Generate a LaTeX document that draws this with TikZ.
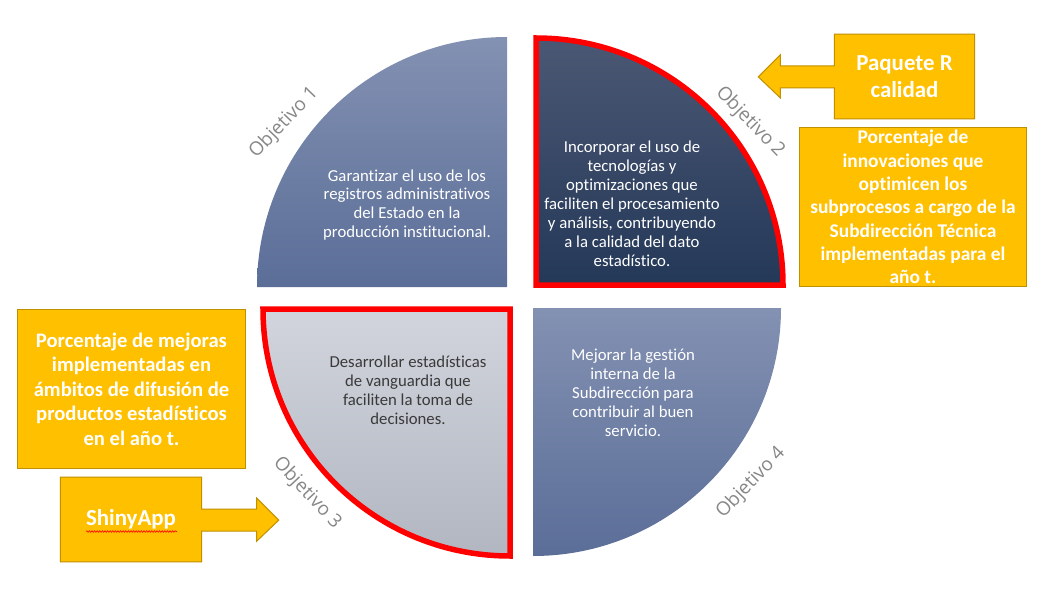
\documentclass[tikz,border=0pt]{standalone}
\usepackage{fontspec}
\setmainfont{Carlito}[Ligatures=NoCommon]
\newfontfamily\labelfont{Open Sans}
\usetikzlibrary{decorations.pathmorphing}
\pgfdeclarelayer{background}
\pgfsetlayers{background,main}
\definecolor{gold}{HTML}{FFC000}
\definecolor{goldline}{HTML}{BF9000}
\definecolor{slatetop}{HTML}{8391B2}
\definecolor{slatebot}{HTML}{5B6E98}
\definecolor{navytop}{HTML}{4B5874}
\definecolor{navybot}{HTML}{243858}
\definecolor{greytop}{HTML}{D2D5DD}
\definecolor{greybot}{HTML}{B1B6C1}
\definecolor{labelgrey}{HTML}{878787}
\definecolor{darktext}{HTML}{3A3A3A}
\begin{document}
\begin{tikzpicture}[x=1bp,y=-1bp,
  quadtext/.style={align=center, inner sep=0, font=\fontsize{16.8}{19}\selectfont},
  objlabel/.style={inner sep=0, text=labelgrey, font=\labelfont\fontsize{19}{22}\selectfont},
  yshape/.style={fill=gold, draw=goldline, line width=1bp, line join=miter},
  ytext/.style={align=center, inner sep=0, outer sep=0, text=white},
  hilite/.style={draw=red, line width=5.5bp, line join=miter}]
\useasboundingbox (0,0) rectangle (1049,600);

% four quarter discs
\path[top color=slatetop, bottom color=slatebot]
  (507,287) -- ++(-250,0) arc[start angle=180, end angle=270, radius=250] -- cycle;
\path[top color=navytop, bottom color=navybot, hilite]
  (536,285) -- ++(0,-247) arc[start angle=270, end angle=360, radius=247] -- cycle;
\path[top color=greytop, bottom color=greybot, hilite]
  (510,309) -- ++(0,247) arc[start angle=90, end angle=180, radius=247] -- cycle;
\path[top color=slatetop, bottom color=slatebot]
  (533,308) -- ++(248,0) arc[start angle=0, end angle=90, radius=248] -- cycle;

% objective texts
\node[quadtext, text=white] (q1t) at (407,205)
  {Garantizar el uso de los\\registros administrativos\\del Estado en la\\producción institucional.};
\node[quadtext, text=white] (q2t) at (632,204)
  {Incorporar el uso de\\tecnologías y\\optimizaciones que\\faciliten el procesamiento\\y análisis, contribuyendo\\a la calidad del dato\\estadístico.};
\node[quadtext, text=darktext] (q3t) at (408,390)
  {Desarrollar estadísticas\\de vanguardia que\\faciliten la toma de\\decisiones.};
\node[quadtext, text=white] (q4t) at (633,393)
  {Mejorar la gestión\\interna de la\\Subdirección para\\contribuir al buen\\servicio.};

% labels along the rim
\node[objlabel, rotate=46]  (o1) at (284,123) {Objetivo 1};
\node[objlabel, rotate=-46] (o2) at (750,122) {Objetivo 2};
\node[objlabel, rotate=-47] (o3) at (307,493) {Objetivo 3};
\node[objlabel, rotate=46]  (o4) at (751,483) {Objetivo 4};

% indicator boxes
\node[ytext, minimum width=141, minimum height=85, font=\bfseries\fontsize{23}{27}\selectfont]
  (paq) at (904.5,76.5) {Paquete R\\calidad};
\node[ytext, fill=gold, draw=goldline, line width=1bp, minimum width=228, minimum height=160,
  font=\bfseries\fontsize{19.5}{23.4}\selectfont]
  (inn) at (913,207) {Porcentaje de\\innovaciones que\\optimicen los\\subprocesos a cargo de la\\Subdirección Técnica\\implementadas para el\\año t.};
\node[ytext, fill=gold, draw=goldline, line width=1bp, minimum width=229, minimum height=160,
  font=\bfseries\fontsize{20.7}{24.6}\selectfont]
  (mej) at (131.5,389) {Porcentaje de mejoras\\implementadas en\\ámbitos de difusión de\\productos estadísticos\\en el año t.};
\node[ytext, minimum width=142, minimum height=85, font=\bfseries\fontsize{23}{27}\selectfont]
  (shiny) at (131,519.5) {ShinyApp};
\draw[red, line width=0.6bp, decorate, decoration={snake, amplitude=0.8bp, segment length=2.6bp}]
  ([shift={(-45,12)}]shiny.center) -- ([shift={(46,12)}]shiny.center);

% white page and arrow callouts behind the texts
\begin{pgfonlayer}{background}
\fill[white] (0,0) rectangle (1049,600);
\draw[yshape] (paq.north west) -- (paq.north east) -- (paq.south east) -- (paq.south west)
  -- ++(0,-31) -- ++(-54,0) -- ++(0,10) -- ++(-22,-21) -- ++(22,-22) -- ++(0,11) -- ++(54,0) -- cycle;
\draw[yshape] (shiny.north west) -- (shiny.north east)
  -- ++(0,32) -- ++(55,0) -- ++(0,-11) -- ++(22,22) -- ++(-22,21) -- ++(0,-10) -- ++(-55,0)
  -- (shiny.south east) -- (shiny.south west) -- cycle;
\end{pgfonlayer}
\end{tikzpicture}
\end{document}
